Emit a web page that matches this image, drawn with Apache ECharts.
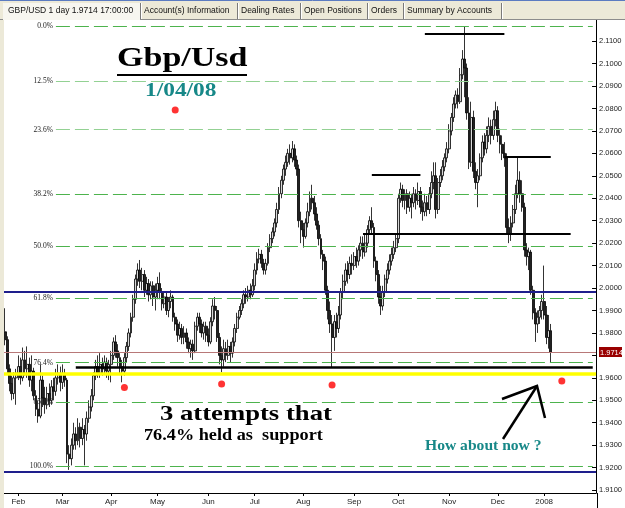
<!DOCTYPE html>
<html>
<head>
<meta charset="utf-8">
<script src="https://cdn.jsdelivr.net/npm/echarts@6/dist/echarts.min.js"></script>
<style>
html,body{margin:0;padding:0;background:#fff;}
#chart{width:625px;height:508px;}
</style>
</head>
<body>
<div id="chart"></div>
<script>
// daily bars GBP/USD, [open, close, low, high]
var jan07 = [
 [1.9805,1.9770,1.9745,1.9910],[1.9770,1.9640,1.9615,1.9785],[1.9640,1.9575,1.9540,1.9660],
 [1.9575,1.9530,1.9500,1.9610],[1.9530,1.9600,1.9505,1.9625],[1.9600,1.9620,1.9480,1.9640]
];
var feb07 = [
 [1.9620,1.9650,1.9590,1.9700],[1.9650,1.9600,1.9570,1.9690],[1.9600,1.9680,1.9585,1.9735],
 [1.9680,1.9640,1.9610,1.9720],[1.9640,1.9660,1.9600,1.9740],[1.9660,1.9590,1.9560,1.9690],
 [1.9590,1.9630,1.9540,1.9700],[1.9630,1.9520,1.9500,1.9645],[1.9520,1.9460,1.9430,1.9545],
 [1.9460,1.9430,1.9400,1.9500],[1.9430,1.9590,1.9420,1.9660],[1.9590,1.9510,1.9470,1.9610],
 [1.9510,1.9480,1.9440,1.9560],[1.9480,1.9530,1.9460,1.9560],[1.9530,1.9500,1.9470,1.9575],
 [1.9500,1.9560,1.9480,1.9590],[1.9560,1.9540,1.9500,1.9600],[1.9540,1.9600,1.9520,1.9640],
 [1.9600,1.9620,1.9570,1.9660],[1.9620,1.9580,1.9540,1.9650]
];
var mar07 = [
 [1.9580,1.9620,1.9550,1.9660],[1.9620,1.9590,1.9560,1.9640],[1.9590,1.9260,1.9220,1.9600],
 [1.9260,1.9240,1.9190,1.9300],[1.9240,1.9300,1.9210,1.9330],[1.9300,1.9350,1.9280,1.9400],
 [1.9350,1.9320,1.9280,1.9380],[1.9320,1.9380,1.9300,1.9420],[1.9380,1.9330,1.9290,1.9400],
 [1.9330,1.9370,1.9300,1.9420],[1.9370,1.9350,1.9210,1.9390],[1.9350,1.9420,1.9320,1.9450],
 [1.9420,1.9470,1.9400,1.9500],[1.9470,1.9520,1.9450,1.9550],[1.9520,1.9610,1.9500,1.9625],
 [1.9610,1.9650,1.9590,1.9680],[1.9650,1.9620,1.9600,1.9700],[1.9620,1.9660,1.9600,1.9710],
 [1.9660,1.9640,1.9610,1.9690],[1.9640,1.9670,1.9620,1.9700],[1.9670,1.9630,1.9600,1.9690],
 [1.9630,1.9660,1.9590,1.9680]
];
var apr07 = [
 [1.9660,1.9700,1.9580,1.9720],[1.9700,1.9760,1.9680,1.9780],[1.9760,1.9720,1.9690,1.9790],
 [1.9720,1.9690,1.9650,1.9750],[1.9690,1.9650,1.9620,1.9710],[1.9650,1.9630,1.9580,1.9680],
 [1.9630,1.9690,1.9610,1.9710],[1.9690,1.9740,1.9670,1.9760],[1.9740,1.9800,1.9720,1.9820],
 [1.9800,1.9870,1.9780,1.9890],[1.9870,1.9950,1.9850,1.9970],[1.9950,2.0040,1.9930,2.0060],
 [2.0040,2.0080,2.0010,2.0110],[2.0080,2.0030,2.0000,2.0125],[2.0030,2.0060,1.9990,2.0090],
 [2.0060,1.9990,1.9960,2.0080],[1.9990,2.0020,1.9970,2.0050],[2.0020,1.9970,1.9940,2.0040],
 [1.9970,2.0010,1.9950,2.0030],[2.0010,1.9960,1.9920,2.0030],[1.9960,1.9990,1.9900,2.0020]
];
var may07 = [
 [1.9990,2.0020,1.9950,2.0050],[2.0020,1.9980,1.9950,2.0070],[1.9980,1.9930,1.9900,2.0000],
 [1.9930,1.9960,1.9910,1.9980],[1.9960,1.9900,1.9880,1.9980],[1.9900,1.9940,1.9870,1.9960],
 [1.9940,1.9960,1.9910,1.9990],[1.9960,1.9870,1.9850,1.9970],[1.9870,1.9840,1.9810,1.9890],
 [1.9840,1.9790,1.9760,1.9860],[1.9790,1.9820,1.9770,1.9850],[1.9820,1.9780,1.9750,1.9840],
 [1.9780,1.9800,1.9750,1.9830],[1.9800,1.9760,1.9730,1.9820],[1.9760,1.9730,1.9710,1.9780],
 [1.9730,1.9750,1.9690,1.9770],[1.9750,1.9720,1.9680,1.9770],[1.9720,1.9830,1.9710,1.9850],
 [1.9830,1.9870,1.9810,1.9890],[1.9870,1.9840,1.9800,1.9890],[1.9840,1.9800,1.9780,1.9860],
 [1.9800,1.9830,1.9770,1.9850],[1.9830,1.9790,1.9760,1.9850]
];
var jun07 = [
 [1.9790,1.9760,1.9740,1.9820],[1.9760,1.9850,1.9750,1.9870],[1.9850,1.9920,1.9830,1.9950],
 [1.9920,1.9900,1.9860,1.9960],[1.9900,1.9780,1.9760,1.9920],[1.9780,1.9700,1.9660,1.9800],
 [1.9700,1.9680,1.9625,1.9740],[1.9680,1.9730,1.9650,1.9770],[1.9730,1.9700,1.9670,1.9760],
 [1.9700,1.9740,1.9680,1.9770],[1.9740,1.9710,1.9670,1.9760],[1.9710,1.9760,1.9690,1.9780],
 [1.9760,1.9820,1.9740,1.9840],[1.9820,1.9870,1.9800,1.9890],[1.9870,1.9900,1.9860,1.9920],
 [1.9900,1.9930,1.9880,1.9950],[1.9930,1.9970,1.9910,1.9990],[1.9970,1.9960,1.9930,2.0000],
 [1.9960,1.9990,1.9940,2.0010],[1.9990,1.9970,1.9950,2.0020],[1.9970,2.0010,1.9960,2.0040]
];
var jul07 = [
 [2.0010,2.0080,1.9990,2.0110],[2.0080,2.0130,2.0060,2.0160],[2.0130,2.0150,2.0110,2.0175],
 [2.0150,2.0110,2.0090,2.0170],[2.0110,2.0080,2.0060,2.0130],[2.0080,2.0110,2.0060,2.0130],
 [2.0110,2.0180,2.0100,2.0200],[2.0180,2.0220,2.0160,2.0240],[2.0220,2.0250,2.0200,2.0270],
 [2.0250,2.0290,2.0230,2.0310],[2.0290,2.0350,2.0270,2.0380],[2.0350,2.0420,2.0330,2.0450],
 [2.0420,2.0480,2.0400,2.0500],[2.0480,2.0530,2.0460,2.0550],[2.0530,2.0560,2.0500,2.0590],
 [2.0560,2.0600,2.0540,2.0620],[2.0600,2.0580,2.0550,2.0640],[2.0580,2.0620,2.0560,2.0655],
 [2.0620,2.0570,2.0540,2.0640],[2.0570,2.0530,2.0500,2.0590],[2.0530,2.0300,2.0270,2.0550],
 [2.0300,2.0260,2.0200,2.0340]
];
var aug07 = [
 [2.0260,2.0230,2.0180,2.0290],[2.0230,2.0290,2.0220,2.0310],[2.0290,2.0340,2.0270,2.0380],
 [2.0340,2.0400,2.0320,2.0430],[2.0400,2.0380,2.0350,2.0460],[2.0380,2.0330,2.0300,2.0410],
 [2.0330,2.0280,2.0260,2.0360],[2.0280,2.0220,2.0190,2.0300],[2.0220,2.0150,2.0130,2.0240],
 [2.0150,2.0120,2.0080,2.0170],[2.0120,1.9990,1.9970,2.0140],[1.9990,1.9900,1.9860,2.0010],
 [1.9900,1.9840,1.9800,1.9940],[1.9840,1.9780,1.9648,1.9880],[1.9780,1.9850,1.9720,1.9880],
 [1.9850,1.9820,1.9780,1.9890],[1.9820,1.9880,1.9800,1.9920],[1.9880,1.9980,1.9860,2.0000],
 [1.9980,2.0030,1.9950,2.0060],[2.0030,2.0080,2.0010,2.0110],[2.0080,2.0060,2.0020,2.0120],
 [2.0060,2.0110,2.0040,2.0140],[2.0110,2.0100,2.0060,2.0150]
];
var sep07 = [
 [2.0100,2.0140,2.0080,2.0160],[2.0140,2.0120,2.0090,2.0180],[2.0120,2.0170,2.0100,2.0190],
 [2.0170,2.0200,2.0140,2.0230],[2.0200,2.0160,2.0130,2.0230],[2.0160,2.0200,2.0140,2.0240],
 [2.0200,2.0260,2.0180,2.0280],[2.0260,2.0300,2.0240,2.0320],[2.0300,2.0270,2.0240,2.0360],
 [2.0270,2.0120,2.0090,2.0290],[2.0120,2.0060,2.0030,2.0140],[2.0060,1.9960,1.9930,2.0080],
 [1.9960,1.9920,1.9880,2.0010],[1.9920,1.9980,1.9900,2.0010],[1.9980,2.0040,1.9960,2.0060],
 [2.0040,2.0080,2.0020,2.0110],[2.0080,2.0120,2.0060,2.0150],[2.0120,2.0150,2.0100,2.0180],
 [2.0150,2.0180,2.0130,2.0210],[2.0180,2.0220,2.0160,2.0240]
];
var oct07 = [
 [2.0220,2.0400,2.0200,2.0420],[2.0400,2.0440,2.0380,2.0470],[2.0440,2.0390,2.0360,2.0460],
 [2.0390,2.0420,2.0350,2.0440],[2.0420,2.0360,2.0330,2.0440],[2.0360,2.0400,2.0340,2.0430],
 [2.0400,2.0380,2.0310,2.0420],[2.0380,2.0420,2.0360,2.0450],[2.0420,2.0390,2.0350,2.0440],
 [2.0390,2.0430,2.0370,2.0470],[2.0430,2.0360,2.0330,2.0450],[2.0360,2.0340,2.0300,2.0390],
 [2.0340,2.0380,2.0320,2.0420],[2.0380,2.0350,2.0320,2.0410],[2.0350,2.0420,2.0330,2.0450],
 [2.0420,2.0470,2.0400,2.0520],[2.0470,2.0500,2.0440,2.0560],[2.0500,2.0350,2.0310,2.0560],
 [2.0350,2.0470,2.0330,2.0490],[2.0470,2.0500,2.0450,2.0530],[2.0500,2.0540,2.0480,2.0570],
 [2.0540,2.0580,2.0520,2.0600],[2.0580,2.0620,2.0560,2.0650]
];
var nov07 = [
 [2.0620,2.0700,2.0600,2.0730],[2.0700,2.0760,2.0680,2.0780],[2.0760,2.0820,2.0740,2.0850],
 [2.0820,2.0860,2.0800,2.0880],[2.0860,2.0830,2.0800,2.0890],[2.0830,2.0950,2.0820,2.0980],
 [2.0950,2.1020,2.0930,2.1060],[2.1020,2.0980,2.0850,2.1165],[2.0980,2.0780,2.0750,2.1000],
 [2.0780,2.0560,2.0530,2.0850],[2.0560,2.0760,2.0540,2.0830],[2.0760,2.0520,2.0490,2.0790],
 [2.0520,2.0470,2.0440,2.0560],[2.0470,2.0500,2.0360,2.0530],[2.0500,2.0580,2.0480,2.0600],
 [2.0580,2.0650,2.0560,2.0680],[2.0650,2.0620,2.0590,2.0690],[2.0620,2.0680,2.0600,2.0720],
 [2.0680,2.0720,2.0650,2.0760],[2.0720,2.0680,2.0640,2.0750],[2.0680,2.0750,2.0660,2.0790],
 [2.0750,2.0790,2.0720,2.0830]
];
var dec07 = [
 [2.0790,2.0680,2.0650,2.0810],[2.0680,2.0640,2.0600,2.0710],[2.0640,2.0600,2.0570,2.0680],
 [2.0600,2.0580,2.0540,2.0650],[2.0580,2.0270,2.0240,2.0600],[2.0270,2.0240,2.0200,2.0310],
 [2.0240,2.0290,2.0210,2.0320],[2.0290,2.0350,2.0270,2.0370],[2.0350,2.0420,2.0330,2.0460],
 [2.0420,2.0480,2.0400,2.0580],[2.0480,2.0420,2.0380,2.0520],[2.0420,2.0360,2.0340,2.0480],
 [2.0360,2.0170,2.0140,2.0380],[2.0170,2.0140,2.0100,2.0200],[2.0140,2.0160,2.0080,2.0180],
 [2.0160,1.9990,1.9970,2.0170],[1.9990,1.9890,1.9860,2.0010],[1.9890,1.9840,1.9760,1.9910],
 [1.9840,1.9870,1.9800,1.9900],[1.9870,1.9900,1.9840,1.9920],[1.9900,1.9940,1.9860,1.9970]
];
var jan08 = [
 [1.9940,1.9880,1.9860,2.0100],[1.9880,1.9780,1.9750,1.9920],[1.9780,1.9810,1.9730,1.9880],
 [1.9810,1.9714,1.9670,1.9840]
];

var firstDay = '2007-01-24';
var slotCount = 268;          // bars plus empty space on the right
var lastLabelIndex = 250;     // no month labels past the 2008 one
var monthNames = ['2008','Feb','Mar','Apr','May','Jun','Jul','Aug','Sep','Oct','Nov','Dec'];
var priceTicks = [1.91,1.92,1.93,1.94,1.95,1.96,1.97,1.98,1.99,2.00,2.01,2.02,2.03,2.04,2.05,2.06,2.07,2.08,2.09,2.10,2.11];

// fibonacci retracement, 0% at the Nov high, 100% at the Mar low
var fibNames  = ['0.0%','12.5%','23.6%','38.2%','50.0%','61.8%','76.4%','85.4%','100.0%'];
var fibLevels = [2.1167, 2.0922, 2.0706, 2.0418, 2.0187, 1.9955, 1.9668, 1.9490, 1.9205];

var lastPrice = 1.9714;
var blueLevels = [1.9982, 1.9180];
var yellowLevel = 1.9617;
// hand drawn black lines [fromIndex, toIndex, price]
var blackLines = [[32, 266, 1.9645], [190, 226, 2.1134], [166, 188, 2.0503], [226, 247, 2.0585], [162, 256, 2.0243]];
// red dots [index, price]
var dots = [[77, 2.0793], [54, 1.9557], [98, 1.9572], [148, 1.9568], [252, 1.9586]];

var bars = [].concat(jan07, feb07, mar07, apr07, may07, jun07, jul07, aug07, sep07, oct07, nov07, dec07, jan08);

// weekday categories
var days = [];
var d = new Date(firstDay + 'T00:00:00Z');
while (days.length < slotCount) {
	var wd = d.getUTCDay();
	if (wd != 0 && wd != 6) {
		days.push(d.toISOString().slice(0, 10));
	}
	d.setUTCDate(d.getUTCDate() + 1);
}
var monthStart = {};
for (var i = 1; i < lastLabelIndex; i++) {
	if (days[i].slice(5, 7) != days[i - 1].slice(5, 7)) monthStart[i] = true;
}
function isMonthStart(idx) { return !!monthStart[idx]; }

var markData = [];
for (var k = 0; k < fibLevels.length; k++) {
	var light = (k == 1 || k == 2);
	markData.push([{
		coord: [23, fibLevels[k]],
		lineStyle: {color: light ? '#93d193' : '#4db34d', width: 1.2, type: [14, 5]},
		label: {show: true, position: 'start', formatter: fibNames[k], fontSize: 7.5,
			fontFamily: 'Liberation Serif', color: '#222', distance: 3}
	}, {coord: [266, fibLevels[k]]}]);
}
markData.push({yAxis: lastPrice, lineStyle: {color: '#b87878', width: 1, type: 'solid'}});
for (var k = 0; k < blueLevels.length; k++) {
	markData.push({yAxis: blueLevels[k], lineStyle: {color: '#1e1e8c', width: 2, type: 'solid'}});
}
markData.push({yAxis: yellowLevel, lineStyle: {color: '#ffff00', width: 3.5, type: 'solid'}});
for (var k = 0; k < blackLines.length; k++) {
	markData.push([{
		coord: [blackLines[k][0], blackLines[k][2]],
		lineStyle: {color: '#000', width: k == 0 ? 2.5 : 2, type: 'solid'}
	}, {coord: [blackLines[k][1], blackLines[k][2]]}]);
}

var serif = '"Liberation Serif", "DejaVu Serif", serif';
var tabFont = '8.5px "Liberation Sans", "DejaVu Sans", sans-serif';

var tabs = [
	['GBP/USD 1 day 1.9714 17:00:00', 8],
	['Account(s) Information', 144],
	['Dealing Rates', 241],
	['Open Positions', 304],
	['Orders', 371],
	['Summary by Accounts', 407]
];
var tabEdges = [140, 237, 300, 367, 403, 501];

var graphics = [
	{type: 'rect', shape: {x: 0, y: 0, width: 4, height: 508}, style: {fill: '#ece9d8'}, z: 10},
	{type: 'rect', shape: {x: 0, y: 0, width: 625, height: 20}, style: {fill: '#ece9d8'}, z: 10},
	{type: 'line', shape: {x1: 0, y1: 0.5, x2: 625, y2: 0.5}, style: {stroke: '#5b7bc1', lineWidth: 1}, z: 11},
	{type: 'line', shape: {x1: 0, y1: 19.5, x2: 625, y2: 19.5}, style: {stroke: '#8c8c8c', lineWidth: 1}, z: 11},
	{type: 'rect', shape: {x: 3, y: 3, width: 137, height: 17}, style: {fill: '#f7f6f0'}, z: 11},
	{type: 'line', shape: {x1: 597.5, y1: 493, x2: 597.5, y2: 508}, style: {stroke: '#000', lineWidth: 1}, z: 11},
	// title block
	{type: 'text', x: 117, y: 59, scaleX: 1.26, style: {text: 'Gbp/Usd', font: 'bold 27px ' + serif, fill: '#000', verticalAlign: 'middle'}, z: 12},
	{type: 'rect', shape: {x: 117, y: 74, width: 130, height: 2}, style: {fill: '#000'}, z: 12},
	{type: 'text', x: 145, y: 91, scaleX: 1.3, style: {text: '1/04/08', font: 'bold 18px ' + serif, fill: '#178888', verticalAlign: 'middle'}, z: 12},
	{type: 'text', x: 160, y: 415, scaleX: 1.27, style: {text: '3 attempts that', font: 'bold 21px ' + serif, fill: '#000', verticalAlign: 'middle'}, z: 12},
	{type: 'text', x: 144, y: 435.5, scaleX: 1.14, style: {text: '76.4% held as  support', font: 'bold 16px ' + serif, fill: '#000', verticalAlign: 'middle'}, z: 12},
	{type: 'text', x: 425, y: 446.5, scaleX: 1.04, style: {text: 'How about now ?', font: 'bold 15px ' + serif, fill: '#178888', verticalAlign: 'middle'}, z: 12},
	// arrow
	{type: 'polyline', shape: {points: [[503, 439], [537, 386]]}, style: {stroke: '#000', lineWidth: 2.5}, z: 12},
	{type: 'polyline', shape: {points: [[502, 399], [537, 386], [545, 418]]}, style: {stroke: '#000', lineWidth: 2.5, fill: null}, z: 12},
	// last price tag
	{type: 'rect', shape: {x: 599, y: 347, width: 23, height: 10}, style: {fill: '#990000'}, z: 12},
	{type: 'text', x: 600, y: 352.5, style: {text: lastPrice.toFixed(4), font: '7.5px "Liberation Sans", sans-serif', fill: '#fff', verticalAlign: 'middle'}, z: 13}
];
for (var t = 0; t < tabs.length; t++) {
	graphics.push({type: 'text', x: tabs[t][1], y: 11, style: {text: tabs[t][0], font: tabFont, fill: '#111', verticalAlign: 'middle'}, z: 12});
}
for (var t = 0; t < tabEdges.length; t++) {
	graphics.push({type: 'line', shape: {x1: tabEdges[t] + 0.5, y1: 3, x2: tabEdges[t] + 0.5, y2: 19}, style: {stroke: '#7a7a7a', lineWidth: 1}, z: 12});
	graphics.push({type: 'line', shape: {x1: tabEdges[t] + 1.5, y1: 3, x2: tabEdges[t] + 1.5, y2: 19}, style: {stroke: '#ffffff', lineWidth: 1}, z: 12});
}

var chart = echarts.init(document.getElementById('chart'));
var option = {
	animation: false,
	backgroundColor: '#ffffff',
	grid: {left: 4, right: 28, top: 20, bottom: 15},
	xAxis: {
		type: 'category',
		data: days,
		boundaryGap: true,
		axisLine: {lineStyle: {color: '#000', width: 1}},
		axisTick: {show: true, alignWithLabel: true, interval: isMonthStart, length: 3, lineStyle: {color: '#000'}},
		axisLabel: {
			interval: isMonthStart,
			fontSize: 8,
			fontFamily: 'Liberation Sans',
			color: '#222',
			margin: 5,
			formatter: function (v) { return monthNames[parseInt(v.slice(5, 7), 10) - 1]; }
		},
		splitLine: {show: false}
	},
	yAxis: {
		type: 'value',
		position: 'right',
		min: 1.9087,
		max: 2.1194,
		scale: true,
		axisLine: {show: true, lineStyle: {color: '#000', width: 1}},
		axisTick: {show: true, inside: true, length: 4, customValues: priceTicks, lineStyle: {color: '#000'}},
		axisLabel: {
			customValues: priceTicks,
			fontSize: 7.5,
			fontFamily: 'Liberation Sans',
			color: '#222',
			margin: 3,
			formatter: function (v) { return v.toFixed(4); }
		},
		splitLine: {show: false}
	},
	series: [{
		type: 'candlestick',
		data: bars,
		barWidth: 2.4,
		itemStyle: {color: '#d8d8d8', color0: '#222222', borderColor: '#000', borderColor0: '#000', borderWidth: 0.8},
		markLine: {
			silent: true,
			symbol: ['none', 'none'],
			precision: 4,
			animation: false,
			label: {show: false},
			data: markData
		}
	}, {
		type: 'scatter',
		data: dots,
		symbolSize: 7,
		itemStyle: {color: '#ff0000'},
		silent: true,
		z: 5
	}],
	graphic: graphics
};
chart.setOption(option);
</script>
</body>
</html>
